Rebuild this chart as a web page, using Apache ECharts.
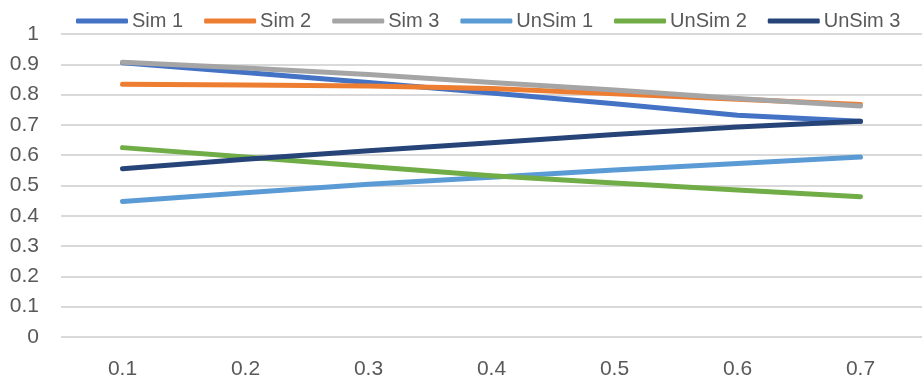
<!DOCTYPE html>
<html>
<head>
<meta charset="utf-8">
<script src="https://cdn.jsdelivr.net/npm/echarts@6/dist/echarts.min.js"></script>
<style>html,body{margin:0;padding:0;background:#fff}#c{width:922px;height:381px}</style>
</head>
<body>
<div id="c"></div>
<script>
var categories = ['0.1','0.2','0.3','0.4','0.5','0.6','0.7'];
var sim1   = [0.905, 0.873, 0.840, 0.805, 0.770, 0.732, 0.712];
var sim2   = [0.834, 0.832, 0.828, 0.820, 0.803, 0.785, 0.767];
var sim3   = [0.907, 0.888, 0.866, 0.840, 0.815, 0.787, 0.762];
var unsim1 = [0.447, 0.476, 0.504, 0.527, 0.551, 0.573, 0.594];
var unsim2 = [0.625, 0.594, 0.563, 0.532, 0.508, 0.485, 0.463];
var unsim3 = [0.555, 0.587, 0.615, 0.641, 0.668, 0.693, 0.712];
var seriesNames = ['Sim 1','Sim 2','Sim 3','UnSim 1','UnSim 2','UnSim 3'];
var colors = ['#4472C4','#ED7D31','#A5A5A5','#5B9BD5','#70AD47','#264478'];
var yTickLabels = ['0','0.1','0.2','0.3','0.4','0.5','0.6','0.7','0.8','0.9','1'];

var allData = [sim1, sim2, sim3, unsim1, unsim2, unsim3];
var FONT = '"Liberation Sans", Arial, sans-serif';
var chart = echarts.init(document.getElementById('c'));
chart.setOption({
  animation: false,
  color: colors,
  grid: { left: 61, width: 873, top: 34, bottom: 44, containLabel: false },
  legend: {
    data: seriesNames,
    left: 71, top: 6,
    icon: 'roundRect',
    itemWidth: 52, itemHeight: 5,
    itemGap: 21,
    textStyle: { color: '#595959', fontSize: 20, fontFamily: FONT, padding: [0,0,0,-1] }
  },
  xAxis: {
    type: 'category',
    data: categories,
    boundaryGap: true,
    axisLine: { show: false },
    axisTick: { show: false },
    axisLabel: { color: '#595959', fontSize: 21, fontFamily: FONT, margin: 22 },
    splitLine: { show: false }
  },
  yAxis: {
    type: 'value',
    min: 0, max: 1, interval: 0.1,
    axisLine: { show: false },
    axisTick: { show: false },
    axisLabel: {
      color: '#595959', fontSize: 21, fontFamily: FONT, margin: 22,
      formatter: function (v) { return yTickLabels[Math.round(v * 10)]; }
    },
    splitLine: { lineStyle: { color: '#D9D9D9', width: 2 } }
  },
  series: seriesNames.map(function (n, i) {
    return {
      name: n, type: 'line', data: allData[i],
      symbol: 'none', showSymbol: false,
      lineStyle: { width: 5, color: colors[i], cap: 'round', join: 'round' },
      itemStyle: { color: colors[i] }
    };
  })
});
</script>
</body>
</html>
